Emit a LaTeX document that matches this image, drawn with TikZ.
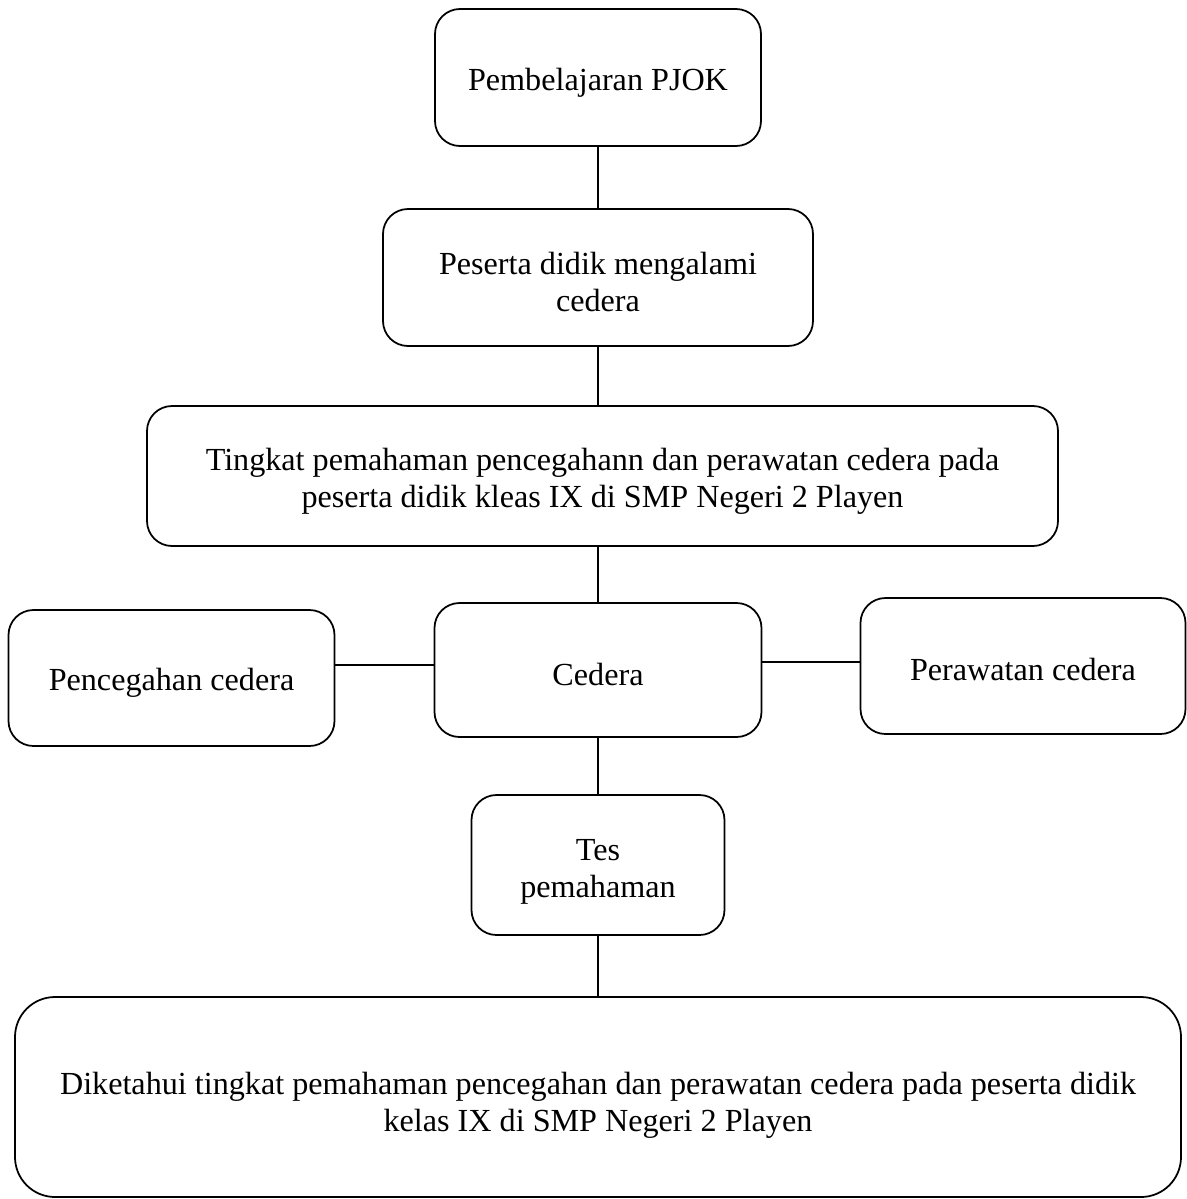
\documentclass[tikz,border=0pt]{standalone}
\usepackage{fontspec}
\setmainfont{Liberation Serif}
\usetikzlibrary{positioning}
\newcommand{\tstrut}[1][1em]{\rule{0pt}{#1}}
\tikzstyle{rbox} = [rectangle, draw, line width=1pt, rounded corners=0.5cm, align=center, inner sep=0pt, font=\fontsize{18.3}{21}\selectfont]
\tikzstyle{link} = [draw, line width=1pt]

\begin{document}
\begin{tikzpicture}[node distance=4cm]
\useasboundingbox (0,0) rectangle (23.74,-23.98);
\node [rbox, minimum width=6.52cm, minimum height=2.74cm] (pj) at (11.96,-1.55) {\tstrut Pembelajaran PJOK};
\node [rbox, below of=pj, minimum width=8.6cm, minimum height=2.74cm] (ps) {\tstrut Peserta didik mengalami\\cedera};
\node [rbox, below of=ps, node distance=3.97cm, xshift=0.09cm, minimum width=18.22cm, minimum height=2.8cm] (tk) {\tstrut Tingkat pemahaman pencegahann dan perawatan cedera pada\\peserta didik kleas IX di SMP Negeri 2 Playen};
\node [rbox, below of=tk, node distance=3.88cm, xshift=-0.09cm, minimum width=6.54cm, minimum height=2.68cm] (cd) {\tstrut Cedera};
\node [rbox, left of=cd, node distance=8.53cm, yshift=-0.16cm, minimum width=6.52cm, minimum height=2.72cm] (cdl) {\tstrut Pencegahan cedera};
\node [rbox, right of=cd, node distance=8.5cm, yshift=0.08cm, minimum width=6.5cm, minimum height=2.72cm] (cdr) {\tstrut[0.9em]Perawatan cedera};
\node [rbox, below of=cd, node distance=3.9cm, minimum width=5.06cm, minimum height=2.8cm] (ts) {\tstrut[1.07em]Tes\\pemahaman};
\node [rbox, below of=ts, node distance=4.64cm, rounded corners=0.8cm, minimum width=23.32cm, minimum height=4cm] (dk) {\tstrut[1.2em]Diketahui tingkat pemahaman pencegahan dan perawatan cedera pada peserta didik\\kelas IX di SMP Negeri 2 Playen};

% connectors
\coordinate (jl) at ([yshift=0.1cm]cd.west);
\coordinate (jr) at ([yshift=0.16cm]cd.east);
\draw[link] (pj.south) -- (ps.north);
\draw[link] (ps.south) -- (ps.south |- tk.north);
\draw[link] (tk.south -| cd.north) -- (cd.north);
\draw[link] (jl) -- (jl -| cdl.east);
\draw[link] (jr) -- (jr -| cdr.west);
\draw[link] (cd.south) -- (ts.north);
\draw[link] (ts.south) -- (dk.north);
\end{tikzpicture}
\end{document}
